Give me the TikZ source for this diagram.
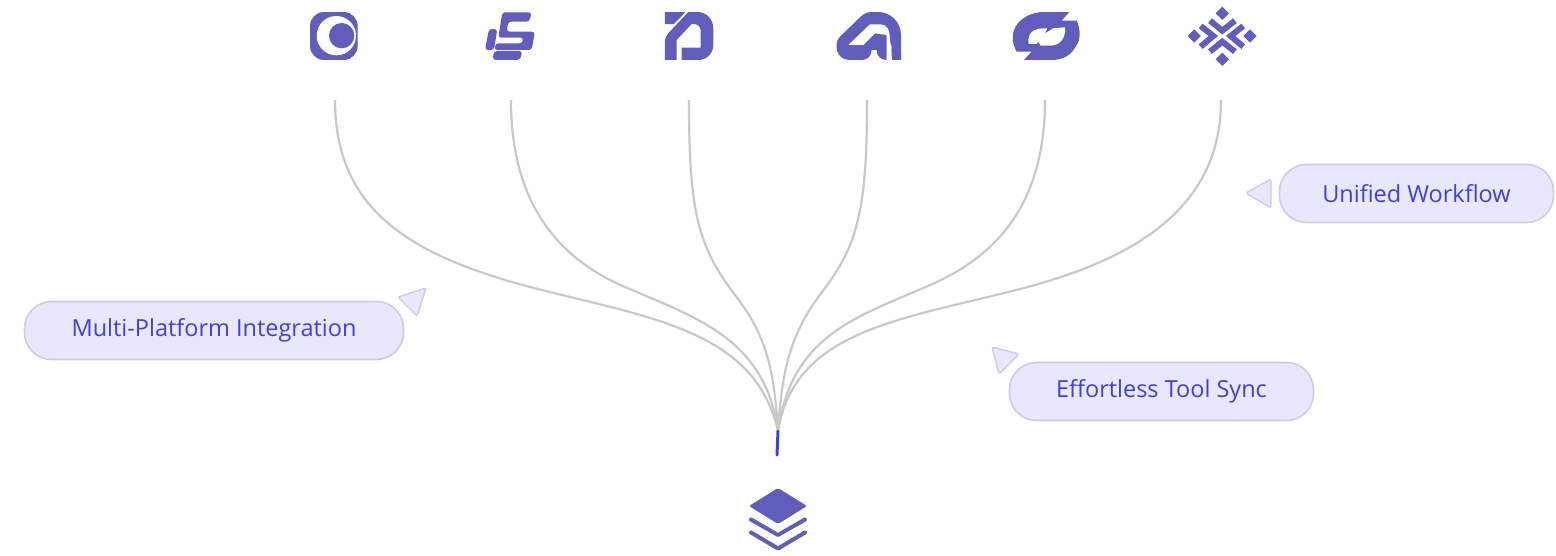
\documentclass[tikz,border=0pt]{standalone}
\usepackage{fontspec}
\setmainfont{Open Sans}
\usepackage{tikz}
\definecolor{iconblue}{HTML}{615EBB}
\definecolor{wirebase}{HTML}{C8C8C8}
\definecolor{wireblue}{HTML}{4040DD}
\definecolor{pillfill}{HTML}{E8E7FB}
\definecolor{pillline}{HTML}{CDCCE8}

\begin{document}
\begin{tikzpicture}[x=1pt, y=-1pt,
    wire/.style={draw=wirebase, line width=2.2pt},
    pill/.style={draw=pillline, fill=pillfill, line width=1.6pt, rounded corners=27pt, minimum height=58pt, inner sep=0pt, text=wireblue, font=\fontsize{23.5}{28}\selectfont},
    pointer/.style={draw=pillline, fill=pillfill, line width=1.4pt, rounded corners=2pt},
    glyph/.style={fill=iconblue, rounded corners=3pt},
    band/.style={draw=iconblue, line width=6pt, miter limit=10}]
    \useasboundingbox (0,0) rectangle (1556,555);

    \coordinate (srcone) at (335,100);
    \coordinate (srctwo) at (511,100);
    \coordinate (srcthree) at (689,100);
    \coordinate (srcfour) at (867,100);
    \coordinate (srcfive) at (1045,100);
    \coordinate (srcsix) at (1221,100);
    \coordinate (hub) at (778,431);
    \coordinate (hubend) at (777,455);

    \draw[wire] (srcone) .. controls (335,210) and (410,255) .. (530,287) .. controls (650,318) and (755,330) .. (hub);
    \draw[wire] (srctwo) .. controls (511,200) and (555,257) .. (625,287) .. controls (700,319) and (765,340) .. (hub);
    \draw[wire] (srcthree) .. controls (689,210) and (697,245) .. (735,295) .. controls (767,336) and (774,370) .. (hub);
    \draw[wire] (srcfour) .. controls (867,210) and (858,245) .. (822,292) .. controls (790,334) and (782,370) .. (hub);
    \draw[wire] (srcfive) .. controls (1045,200) and (1000,255) .. (930,285) .. controls (855,318) and (792,335) .. (hub);
    \draw[wire] (srcsix) .. controls (1221,205) and (1140,258) .. (1020,289) .. controls (900,320) and (795,330) .. (hub);
    \draw[draw=wireblue, line width=3pt, line cap=round] (hub) -- (hubend);

    \node[pill, minimum width=379pt] (multi) at (214,330.5) {Multi-Platform Integration};
    \node[pill, minimum width=304pt] (sync) at (1161.5,391.5) {Effortless Tool Sync};
    \node[pill, minimum width=274pt] (unified) at (1416.5,193.5) {Unified Workflow};
    \draw[pointer] (398,297) -- (426,288) -- (417,316) -- cycle;
    \draw[pointer] (992,347) -- (1019,354) -- (999,374) -- cycle;
    \draw[pointer] (1246,193) -- (1271,179) -- (1271,208) -- cycle;

    \begin{scope}[shift={(290,0)}, scale=0.3333]
        \fill[iconblue, rounded corners=14pt] (60,36) rectangle (203,180);
        \fill[white] (139,107) circle (59);
        \fill[iconblue] (155,107) circle (38);
        \fill[glyph] (637,37) -- (725,37) -- (718,65) -- (655,65) -- (650,95) -- (735,95) -- (725,150) -- (613,150) -- (617,130) -- (697,130) -- (700,113) -- (625,113) -- cycle;
        \fill[glyph] (612,153) -- (697,153) -- (690,180) -- (608,180) -- cycle;
        \fill[glyph] (597,87) -- (622,87) -- (612,150) -- (585,150) -- cycle;
        \fill[iconblue] (1125,36) -- (1187,36) -- (1152,72) -- (1125,72) -- cycle;
        \fill[iconblue] (1125,180) -- (1125,120) [rounded corners=3pt] -- (1130,105) [sharp corners] -- (1195,36) -- (1222,36) .. controls (1250,36) and (1270,58) .. (1270,85) -- (1270,135) .. controls (1270,160) and (1250,180) .. (1225,180) -- (1175,180) -- (1175,143) -- (1232,143) -- (1232,90) .. controls (1232,80) and (1222,72) .. (1212,72) -- (1205,72) -- (1160,120) -- (1160,180) -- cycle;
    \end{scope}

    \begin{scope}[shift={(820,0)}, scale=0.3333]
        \fill[iconblue] (243,180) -- (243,105) .. controls (243,65) and (210,36) .. (175,36) -- (155,36) .. controls (140,36) and (130,42) .. (122,50) -- (60,110) .. controls (40,130) and (48,180) .. (88,180) -- (125,180) .. controls (142,180) and (155,168) .. (155,150) -- (170,150) .. controls (170,168) and (182,180) .. (200,180) -- cycle;
        \fill[white] (85,135) -- (150,73) -- (180,73) .. controls (198,73) and (208,85) .. (208,105) -- (200,180) -- (213,180) -- (215,140) -- (200,105) -- (165,100) -- (130,135) -- cycle;
        \fill[white] (200,100) -- (208,100) -- (216,180) -- (200,180) -- cycle;
        \fill[iconblue] (215,150) .. controls (216,168) and (228,180) .. (243,180) -- (243,150) -- cycle;
        \fill[iconblue] (670,36) -- (748,36) -- (725,62) -- (770,62) .. controls (782,85) and (782,120) .. (770,135) .. controls (755,165) and (730,180) .. (695,180) -- (612,180) -- (635,155) -- (590,155) .. controls (573,125) and (575,95) .. (592,72) .. controls (610,50) and (640,36) .. (670,36) -- cycle;
        \fill[white] (626,132) .. controls (620,100) and (640,82) .. (682,85) -- (675,100) -- (700,85) -- (735,82) .. controls (738,115) and (720,137) .. (690,137) -- (662,137) -- (655,125) -- (650,132) -- cycle;
        \foreach \dx/\dy in {1207/40, 1207/178, 1123/108, 1290/108} {
            \fill[iconblue] (\dx-20,\dy) -- (\dx,\dy-20) -- (\dx+20,\dy) -- (\dx,\dy+20) -- cycle;
        }
        \draw[band] (1170,62) -- (1207,92) -- (1245,62);
        \draw[band] (1170,155) -- (1207,125) -- (1245,155);
        \draw[band] (1142,78) -- (1180,108) -- (1142,140);
        \draw[band] (1270,78) -- (1232,108) -- (1270,140);
    \end{scope}

    \fill[iconblue, rounded corners=2pt] (749,506) -- (778,488) -- (807,506) -- (778,524) -- cycle;
    \draw[iconblue, line width=4pt, line cap=round, line join=round] (751,519.5) -- (778,535) -- (805,519.5);
    \draw[iconblue, line width=4pt, line cap=round, line join=round] (751,532.5) -- (778,548.5) -- (805,532.5);
\end{tikzpicture}
\end{document}
